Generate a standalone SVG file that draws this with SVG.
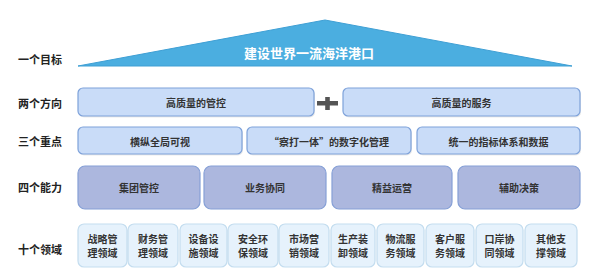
<svg xmlns="http://www.w3.org/2000/svg" width="600" height="276" viewBox="0 0 600 276">
<defs>
<style>
text{font-family:"Noto Sans CJK SC","Noto Sans",sans-serif;font-weight:bold;text-anchor:middle;dominant-baseline:central}
.lbl{font-size:11px;fill:#222;text-anchor:start}
.t{font-size:10px;fill:#333}
.b1{fill:#c9dcf8;stroke:#7ea2da;stroke-width:1.2}
.b2{fill:#acb7de;stroke:#86a0d6;stroke-width:1.2}
.b3{fill:#e6f2fc;stroke:#c4ddef;stroke-width:1.2}
.sh{fill:#000;opacity:0.08}
</style>
</defs>
<rect width="600" height="276" fill="#fff"/>
<g id="labels">
<text class="lbl" x="18" y="59">一个目标</text>
<text class="lbl" x="18" y="103">两个方向</text>
<text class="lbl" x="18" y="141">三个重点</text>
<text class="lbl" x="18" y="187">四个能力</text>
<text class="lbl" x="18" y="249">十个领域</text>
</g>
<g id="goal">
<polygon points="78,66 325,20 572,66" fill="#4baee0" stroke="#3f9fd4" stroke-width="1"/>
<text x="309" y="52" style="font-size:13px;fill:#fff">建设世界一流海洋港口</text>
</g>
<g id="dir1"><rect class="sh" x="79" y="89.5" width="236" height="28" rx="5"/><rect class="b1" x="78" y="88" width="236" height="28" rx="5"/><text class="t" x="196" y="102">高质量的管控</text></g>
<g id="plus"><rect x="317" y="101" width="21" height="4.5" fill="#555"/><rect x="325.2" y="97" width="4.6" height="13" fill="#555"/></g>
<g id="dir2"><rect class="sh" x="344" y="89.5" width="237" height="28" rx="5"/><rect class="b1" x="343" y="88" width="237" height="28" rx="5"/><text class="t" x="461.5" y="102">高质量的服务</text></g>
<g id="focus1"><rect class="sh" x="79" y="128.5" width="164" height="27" rx="5"/><rect class="b1" x="78" y="127" width="164" height="27" rx="5"/><text class="t" x="160" y="141">横纵全局可视</text></g>
<g id="focus2"><rect class="sh" x="248" y="128.5" width="164" height="27" rx="5"/><rect class="b1" x="247" y="127" width="164" height="27" rx="5"/><text class="t" x="329" y="141">“察打一体”的数字化管理</text></g>
<g id="focus3"><rect class="sh" x="418" y="128.5" width="163" height="27" rx="5"/><rect class="b1" x="417" y="127" width="163" height="27" rx="5"/><text class="t" x="498.5" y="141">统一的指标体系和数据</text></g>
<g id="cap1"><rect class="b2" x="78" y="166" width="122" height="43" rx="7"/><text class="t" x="139" y="187.5">集团管控</text></g>
<g id="cap2"><rect class="b2" x="204" y="166" width="122" height="43" rx="7"/><text class="t" x="265" y="187.5">业务协同</text></g>
<g id="cap3"><rect class="b2" x="332" y="166" width="120" height="43" rx="7"/><text class="t" x="392" y="187.5">精益运营</text></g>
<g id="cap4"><rect class="b2" x="458" y="166" width="122" height="43" rx="7"/><text class="t" x="519" y="187.5">辅助决策</text></g>
<g id="d1"><rect class="b3" x="78" y="224" width="49" height="43" rx="6"/><text class="t" x="102.5" y="238.5">战略管</text><text class="t" x="102.5" y="252">理领域</text></g>
<g id="d2"><rect class="b3" x="128" y="224" width="50" height="43" rx="6"/><text class="t" x="153" y="238.5">财务管</text><text class="t" x="153" y="252">理领域</text></g>
<g id="d3"><rect class="b3" x="180" y="224" width="47" height="43" rx="6"/><text class="t" x="203.5" y="238.5">设备设</text><text class="t" x="203.5" y="252">施领域</text></g>
<g id="d4"><rect class="b3" x="228" y="224" width="50" height="43" rx="6"/><text class="t" x="253" y="238.5">安全环</text><text class="t" x="253" y="252">保领域</text></g>
<g id="d5"><rect class="b3" x="279" y="224" width="50" height="43" rx="6"/><text class="t" x="304" y="238.5">市场营</text><text class="t" x="304" y="252">销领域</text></g>
<g id="d6"><rect class="b3" x="331" y="224" width="44" height="43" rx="6"/><text class="t" x="353" y="238.5">生产装</text><text class="t" x="353" y="252">卸领域</text></g>
<g id="d7"><rect class="b3" x="377" y="224" width="47" height="43" rx="6"/><text class="t" x="400.5" y="238.5">物流服</text><text class="t" x="400.5" y="252">务领域</text></g>
<g id="d8"><rect class="b3" x="426" y="224" width="48" height="43" rx="6"/><text class="t" x="450" y="238.5">客户服</text><text class="t" x="450" y="252">务领域</text></g>
<g id="d9"><rect class="b3" x="476" y="224" width="47" height="43" rx="6"/><text class="t" x="499.5" y="238.5">口岸协</text><text class="t" x="499.5" y="252">同领域</text></g>
<g id="d10"><rect class="b3" x="525" y="224" width="52" height="43" rx="6"/><text class="t" x="551" y="238.5">其他支</text><text class="t" x="551" y="252">撑领域</text></g>
<g id="connectors"></g>
</svg>
